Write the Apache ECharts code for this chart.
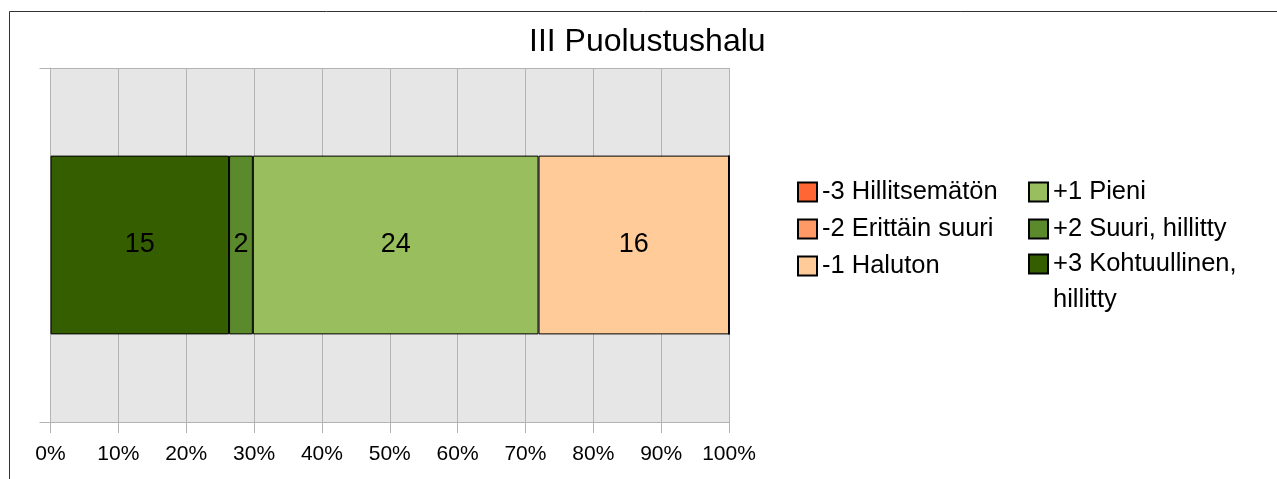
<!DOCTYPE html>
<html>
<head>
<meta charset="utf-8">
<title>III Puolustushalu</title>
<script src="https://cdn.jsdelivr.net/npm/echarts@6/dist/echarts.min.js"></script>
<style>
  html, body { margin: 0; padding: 0; background: #fff; }
  #chart { width: 1277px; height: 479px; }
</style>
</head>
<body>
<div id="chart"></div>
<script>
// vastausten määrät (vasemmalta oikealle pinottuna)
const categories = ['III']
const seriesNames = ['+3 Kohtuullinen, hillitty', '+2 Suuri, hillitty', '+1 Pieni', '-1 Haluton', '-2 Erittäin suuri', '-3 Hillitsemätön']
const counts = [15, 2, 24, 16, 0, 0]
const colors = ['#355e00', '#5b8a2c', '#98be5d', '#ffcc99', '#ff9966', '#ff6633']
const xTicks = [0, 10, 20, 30, 40, 50, 60, 70, 80, 90, 100]

const total = counts.reduce((a, b) => a + b, 0)
const font = 'Liberation Sans, Arial, sans-serif'

const series = seriesNames.map((name, i) => ({
  name: name,
  type: 'bar',
  stack: 'all',
  barWidth: '50.5%',
  data: [{ value: counts[i] / total * 100, count: counts[i] }],
  itemStyle: { color: colors[i], borderColor: '#000', borderWidth: 1 },
  label: {
    show: counts[i] > 0,
    position: 'inside',
    color: '#000',
    fontFamily: font,
    fontSize: 27,
    formatter: p => p.data.count
  }
}))

// yhteiset selitteen asetukset
function legendBox (left, top, names, lineHeight, formatter) {
  return {
    orient: 'vertical',
    left: left,
    top: top,
    padding: 0,
    itemWidth: 19,
    itemHeight: 19,
    itemGap: 3,
    icon: 'rect',
    data: names,
    formatter: formatter,
    textStyle: { color: '#000', fontFamily: font, fontSize: 25.5, lineHeight: lineHeight },
    selectedMode: false
  }
}

const option = {
  animation: false,
  title: {
    text: 'III Puolustushalu',
    left: 529,
    top: 26,
    padding: 0,
    textStyle: { color: '#000', fontFamily: font, fontSize: 32, fontWeight: 'normal' }
  },
  graphic: [{
    type: 'rect',
    shape: { x: 9.5, y: 11.5, width: 1400, height: 600 },
    style: { fill: 'none', stroke: '#333', lineWidth: 1 },
    silent: true
  }],
  legend: [
    legendBox(797, 175, [seriesNames[5], seriesNames[4], seriesNames[3]], 34),
    legendBox(1028, 175, [seriesNames[2], seriesNames[1]], 34),
    // kaksirivinen selite: tyhjä ensimmäinen rivi pitää tekstin ruudun tasalla
    legendBox(1028, 210, [seriesNames[0]], 36, name => '\n' + name.replace(', ', ',\n'))
  ],
  grid: {
    left: 50.5,
    right: 548,
    top: 68,
    bottom: 57,
    show: true,
    backgroundColor: '#e6e6e6',
    borderWidth: 0
  },
  xAxis: {
    type: 'value',
    min: xTicks[0],
    max: xTicks[xTicks.length - 1],
    interval: 10,
    axisLine: { show: true, lineStyle: { color: '#b3b3b3', width: 1 } },
    axisTick: { show: true, length: 11, lineStyle: { color: '#b3b3b3' } },
    splitLine: { show: true, lineStyle: { color: '#b3b3b3', width: 1 } },
    axisLabel: {
      margin: 22,
      color: '#000',
      fontFamily: font,
      fontSize: 21,
      formatter: '{value}%'
    }
  },
  yAxis: {
    type: 'category',
    data: categories,
    axisLine: { show: true, lineStyle: { color: '#b3b3b3', width: 1 } },
    axisTick: { show: true, length: 11, lineStyle: { color: '#b3b3b3' } },
    splitLine: { show: true, lineStyle: { color: '#b3b3b3', width: 1 } },
    axisLabel: { show: false }
  },
  series: series
}

const myChart = echarts.init(document.getElementById('chart'))
myChart.setOption(option)
</script>
</body>
</html>
